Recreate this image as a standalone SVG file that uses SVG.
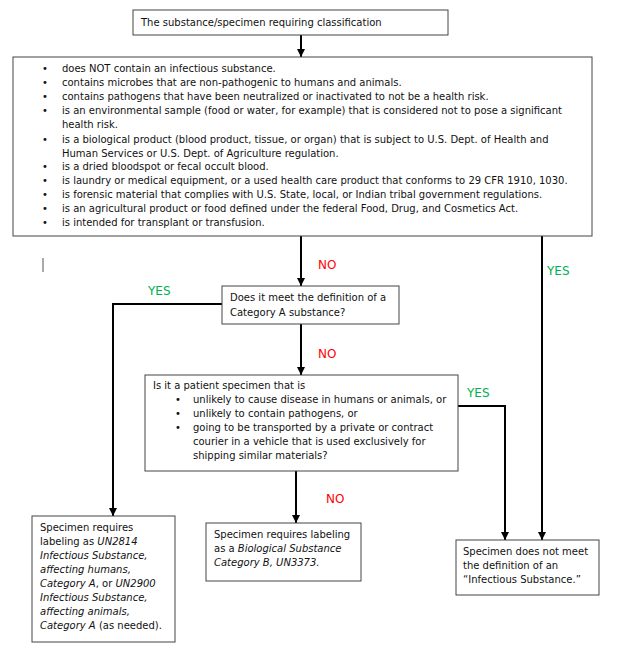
<svg xmlns="http://www.w3.org/2000/svg" width="621" height="661" viewBox="0 0 621 661">
<style>
text{font-family:"DejaVu Sans","Liberation Sans",sans-serif;font-size:10px;fill:#111}
.box{fill:#fff;stroke:#444;stroke-width:1}
.c{fill:none;stroke:#000;stroke-width:2}
.no{fill:#ff0000;font-size:12px}
.yes{fill:#00b050;font-size:12px}
</style>
<defs>
<marker id="ah" viewBox="0 0 10 10" refX="10" refY="5" markerWidth="4" markerHeight="4" orient="auto" markerUnits="strokeWidth">
<path d="M0,0 L10,5 L0,10 z" fill="#000"/>
</marker>
</defs>
<rect width="621" height="661" fill="#fff"/>
<g id="connectors">
<line class="c" x1="301" y1="35" x2="301" y2="57" marker-end="url(#ah)"/>
<line class="c" x1="301" y1="236" x2="301" y2="286" marker-end="url(#ah)"/>
<line class="c" x1="542" y1="236" x2="542" y2="540" marker-end="url(#ah)"/>
<polyline class="c" points="222,304 113,304 113,516" marker-end="url(#ah)"/>
<line class="c" x1="301" y1="324" x2="301" y2="375" marker-end="url(#ah)"/>
<polyline class="c" points="458,406 505,406 505,540" marker-end="url(#ah)"/>
<line class="c" x1="296" y1="471" x2="296" y2="523" marker-end="url(#ah)"/>
<line x1="43" y1="258" x2="43" y2="272" stroke="#555" stroke-width="1"/>
<text class="no" x="318" y="269">NO</text>
<text class="yes" x="547" y="275">YES</text>
<text class="yes" x="148" y="295">YES</text>
<text class="no" x="318" y="358">NO</text>
<text class="yes" x="467" y="397">YES</text>
<text class="no" x="326" y="503">NO</text>
</g>
<g id="start">
<rect class="box" x="133" y="10" width="315" height="25"/>
<text x="141" y="26" font-size="11">The substance/specimen requiring classification</text>
</g>
<g id="criteria">
<rect class="box" x="13" y="57" width="579" height="179"/>
<g>
<text x="42" y="72">•</text><text x="62" y="72">does NOT contain an infectious substance.</text>
<text x="42" y="86">•</text><text x="62" y="86">contains microbes that are non-pathogenic to humans and animals.</text>
<text x="42" y="100">•</text><text x="62" y="100">contains pathogens that have been neutralized or inactivated to not be a health risk.</text>
<text x="42" y="114">•</text><text x="62" y="114">is an environmental sample (food or water, for example) that is considered not to pose a significant</text>
<text x="62" y="128">health risk.</text>
<text x="42" y="143">•</text><text x="62" y="143">is a biological product (blood product, tissue, or organ) that is subject to U.S. Dept. of Health and</text>
<text x="62" y="157">Human Services or U.S. Dept. of Agriculture regulation.</text>
<text x="42" y="170">•</text><text x="62" y="170">is a dried bloodspot or fecal occult blood.</text>
<text x="42" y="184">•</text><text x="62" y="184">is laundry or medical equipment, or a used health care product that conforms to 29 CFR 1910, 1030.</text>
<text x="42" y="198">•</text><text x="62" y="198">is forensic material that complies with U.S. State, local, or Indian tribal government regulations.</text>
<text x="42" y="212">•</text><text x="62" y="212">is an agricultural product or food defined under the federal Food, Drug, and Cosmetics Act.</text>
<text x="42" y="226">•</text><text x="62" y="226">is intended for transplant or transfusion.</text>
</g>
</g>
<g id="categoryA">
<rect class="box" x="222" y="286" width="177" height="38"/>
<text x="230" y="301">Does it meet the definition of a</text>
<text x="230" y="316">Category A substance?</text>
</g>
<g id="patient">
<rect class="box" x="145" y="375" width="313" height="96"/>
<text x="153" y="389">Is it a patient specimen that is</text>
<text x="175" y="403">•</text><text x="193" y="403">unlikely to cause disease in humans or animals, or</text>
<text x="175" y="417">•</text><text x="193" y="417">unlikely to contain pathogens, or</text>
<text x="175" y="431">•</text><text x="193" y="431">going to be transported by a private or contract</text>
<text x="193" y="445">courier in a vehicle that is used exclusively for</text>
<text x="193" y="459">shipping similar materials?</text>
</g>
<g id="resultA">
<rect class="box" x="32" y="516" width="143" height="126"/>
<text x="40" y="531">Specimen requires</text>
<text x="40" y="545">labeling as <tspan font-style="italic">UN2814</tspan></text>
<text x="40" y="559" font-style="italic">Infectious Substance,</text>
<text x="40" y="573" font-style="italic">affecting humans,</text>
<text x="40" y="587"><tspan font-style="italic">Category A</tspan>, or <tspan font-style="italic">UN2900</tspan></text>
<text x="40" y="601" font-style="italic">Infectious Substance,</text>
<text x="40" y="615" font-style="italic">affecting animals,</text>
<text x="40" y="629"><tspan font-style="italic">Category A</tspan> (as needed).</text>
</g>
<g id="resultB">
<rect class="box" x="206" y="523" width="155" height="58"/>
<text x="214" y="538">Specimen requires labeling</text>
<text x="214" y="552">as a <tspan font-style="italic">Biological Substance</tspan></text>
<text x="214" y="566" font-style="italic">Category B, UN3373.</text>
</g>
<g id="notInfectious">
<rect class="box" x="456" y="540" width="143" height="55"/>
<text x="463" y="555">Specimen does not meet</text>
<text x="463" y="569">the definition of an</text>
<text x="463" y="583">“Infectious Substance.”</text>
</g>
</svg>
